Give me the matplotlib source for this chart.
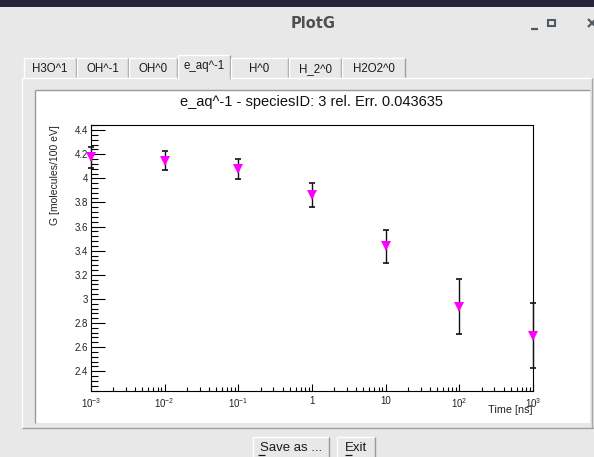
import matplotlib
matplotlib.use('Agg')
import matplotlib.pyplot as plt
import numpy as np
from matplotlib.colors import LinearSegmentedColormap
from matplotlib.ticker import (FixedLocator, FixedFormatter, MultipleLocator,
                               FormatStrFormatter, NullFormatter)

plt.rcParams['font.family'] = ['Liberation Sans', 'DejaVu Sans']
plt.rcParams['mathtext.fontset'] = 'custom'
plt.rcParams['mathtext.rm'] = 'Liberation Sans'
plt.rcParams['mathtext.it'] = 'Liberation Sans:italic'

time_ns = [1e-3, 1e-2, 1e-1, 1, 10, 100, 1000]
g_value = [4.174, 4.147, 4.079, 3.860, 3.436, 2.937, 2.695]
g_error = [0.087, 0.081, 0.086, 0.098, 0.134, 0.227, 0.267]

x_ticks = [1e-3, 1e-2, 1e-1, 1, 10, 100, 1000]
x_tick_labels = ['$10^{-3}$', '$10^{-2}$', '$10^{-1}$', '1', '10',
                 '$10^{2}$', '$10^{3}$']

species_tabs = ['H3O^1', 'OH^-1', 'OH^0', 'e_aq^-1', 'H^0', 'H_2^0', 'H2O2^0']
active_tab = 'e_aq^-1'
plot_title = 'e_aq^-1 - speciesID: 3 rel. Err. 0.043635'

# tab edges in window pixels
tab_edges = [23, 76, 128, 177, 230, 288, 341, 405]

W, H = 594, 457
fig = plt.figure(figsize=(W / 100, H / 100), dpi=100)

# ---------------------------------------------------------------- window
bg = fig.add_axes([0, 0, 1, 1])
bg.set_axis_off()


def line(x0, y0, x1, y1, c, lw=1.0):
    bg.plot([x0, x1], [y0, y1], color=c, lw=lw, solid_capstyle='butt')


def rect(x0, y0, x1, y1, c):
    bg.add_patch(plt.Rectangle((x0, y0), x1 - x0, y1 - y0, color=c, lw=0))


def vgrad(x0, y0, x1, y1, c0, c1):
    cmap = LinearSegmentedColormap.from_list('g', [c0, c1])
    bg.imshow(np.linspace(0, 1, 64).reshape(-1, 1), cmap=cmap, aspect='auto',
              extent=(x0, x1, y1, y0), origin='upper', interpolation='bilinear')


rect(0, 0, W, H, '#e8e8e8')
rect(0, 0, W, 7, '#28243e')
vgrad(0, 7, 14, H, '#28243f', '#4b4d70')
vgrad(14, 7, W, 46, '#f7f7f7', '#e6e6e6')

bg.text(313, 23, 'PlotG', ha='center', va='center', fontsize=10.5,
        fontweight='bold', color='#505050', family='DejaVu Sans')
line(531, 28.5, 538, 28.5, '#505a62', 1.6)
bg.add_patch(plt.Rectangle((548, 19.5), 6.5, 6.5, fill=False,
                           ec='#505a62', lw=1.5))
line(588, 19, 596, 27, '#505a62', 1.6)
line(588, 27, 596, 19, '#505a62', 1.6)

# tabs
for i, name in enumerate(species_tabs):
    x0, x1 = tab_edges[i] + 1, tab_edges[i + 1]
    top = 55 if name == active_tab else 58
    bottom = 79 if name == active_tab else 78
    rect(x0, top, x1, bottom, '#e8e8e8')
    line(x0, top, x1, top, 'white')
    line(x0, top, x0, bottom, 'white')
    line(x1 - 0.5, top, x1 - 0.5, bottom, '#a0a0a0')
    bg.text((x0 + x1) / 2, top + 11, name, ha='center', va='center',
            fontsize=8.3, color='#1a1a1a')

# tab panel and canvas
line(22, 78, tab_edges[3], 78, 'white')
line(tab_edges[4], 78, 592, 78, 'white')
line(22, 78, 22, 428, 'white')
line(22, 428, 594, 428, '#a0a0a0')
line(592, 78, 592, 428, '#a8a8a8')
rect(35, 90, 590, 423, 'white')
line(35, 90, 590, 90, '#9a9a9a')
line(35, 90, 35, 423, '#9a9a9a')

# buttons
for (x0, x1, label) in [(253, 329, 'Save as ...'), (337, 375, 'Exit')]:
    line(x0, 437, x1, 437, 'white')
    line(x0, 437, x0, H, 'white')
    line(x1, 437, x1, H, '#9a9a9a')
    bg.text((x0 + x1) / 2, 448, label, ha='center', va='center',
            fontsize=9.5, color='#1a1a1a')
line(258, 454.5, 265, 454.5, '#1a1a1a', 0.9)
line(345, 454.5, 352, 454.5, '#1a1a1a', 0.9)

bg.set_xlim(0, W)
bg.set_ylim(H, 0)

# ---------------------------------------------------------------- plot
ax = fig.add_axes([91 / W, 1 - 391 / H, (533 - 91) / W, (391 - 125) / H])
ax.set_facecolor('white')

ax.errorbar(time_ns, g_value, yerr=g_error, fmt='none', ecolor='#111111',
            elinewidth=1.0, capsize=2.4, capthick=1.2, clip_on=False,
            zorder=3)
ax.plot(time_ns, g_value, 'v', color='#ff00ff', ms=6.5, mew=0,
        clip_on=False, zorder=4)

ax.set_xscale('log')
ax.set_xlim(1e-3, 1e3)
ax.set_ylim(2.236, 4.443)

ax.xaxis.set_major_locator(FixedLocator(x_ticks))
ax.xaxis.set_major_formatter(FixedFormatter(x_tick_labels))
ax.xaxis.set_minor_formatter(NullFormatter())
ax.yaxis.set_major_locator(MultipleLocator(0.2))
ax.yaxis.set_minor_locator(MultipleLocator(0.04))
ax.yaxis.set_major_formatter(FormatStrFormatter('%g'))

ax.tick_params(axis='both', which='both', direction='in', top=False,
               right=False, color='black', width=0.8, labelcolor='#222222')
ax.tick_params(axis='y', which='major', length=10, pad=2, labelsize=7)
ax.tick_params(axis='y', which='minor', length=5)
ax.tick_params(axis='x', which='major', length=5, pad=3.5, labelsize=7)
ax.tick_params(axis='x', which='minor', length=3.2)

for s in ax.spines.values():
    s.set_linewidth(0.8)
    s.set_color('black')

ax.set_title(plot_title, fontsize=10.5, pad=14, color='#111111')
ax.set_ylabel('G [molecules/100 eV]', loc='top', fontsize=7.5,
              color='#222222')
ax.yaxis.set_label_coords(-0.07, 1.0)
ax.set_xlabel('Time [ns]', loc='right', fontsize=7.8, color='#222222')
ax.xaxis.set_label_coords(1.0, -0.052)

fig.savefig('out.png', dpi=100)
